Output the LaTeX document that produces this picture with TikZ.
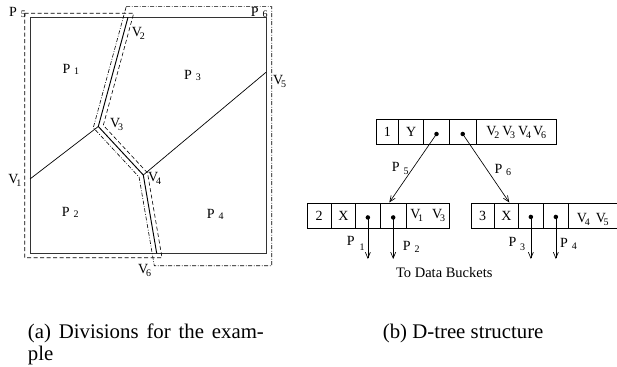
\documentclass[tikz,border=0pt]{standalone}
\usepackage{fontspec}
\setmainfont{Liberation Serif}
\usetikzlibrary{arrows.meta}
\newcommand\Psb[2][-1pt]{P\hspace{0.28em}\raisebox{#1}{\fontsize{10}{10}\selectfont #2}}
\newcommand\Vsb[1]{V\kern-2.2pt\raisebox{-3pt}{\fontsize{10}{10}\selectfont #1}}
\begin{document}
\begin{tikzpicture}[x=1pt,y=-1pt,
  lbl/.style={inner sep=0pt, anchor=base west, font=\fontsize{14}{14}\selectfont},
  sq/.style={line width=1pt, draw=black!80},
  divl/.style={line width=0.95pt},
  thinl/.style={line width=0.7pt},
  dashreg/.style={line width=0.6pt, dash pattern=on 4pt off 2.5pt},
  dotreg/.style={line width=0.6pt, dash pattern=on 4pt off 1.6pt on 0.8pt off 1.6pt},
  cell/.style={draw, line width=0.7pt, inner sep=0pt, anchor=north west, font=\fontsize{14}{14}\selectfont},
  ptr/.style={line width=0.65pt, -{Straight Barb[length=6pt,width=5pt]}},
  dotc/.style={circle, fill, inner sep=0pt, minimum size=4.5pt},
  captxt/.style={inner sep=0pt, anchor=base west, font=\fontsize{20.8}{24}\selectfont}
]
\useasboundingbox (0,0) rectangle (617,366);
% ---------- (a) divisions ----------
\coordinate (A) at (128,17.3);
\coordinate (B) at (98.3,126.5);
\coordinate (C) at (143.3,175);
\coordinate (D) at (156.7,253.3);
\coordinate (E1) at (30,179);
\coordinate (E5) at (266,72.3);
\draw[sq] (30,17.3) rectangle (266,253.3);
\draw[divl] (A) -- (B) -- (C) -- (D);
\draw[thinl] (E1) -- (B);
\draw[thinl] (C) -- (E5);
% P5 region (dashed)
\draw[dashreg] (24.7,13.3) -- (133.7,13.3) -- (103.3,125.3) -- (147.5,172.9) -- (162,257.7) -- (24.7,257.7) -- cycle;
% P6 region (dash-dot)
\draw[dotreg] (126.2,6.7) -- (271.7,6.7) -- (271.7,265.7) -- (154.3,265.7) -- (139.1,177.1) -- (93.3,127.7) -- cycle;
% labels
\node[lbl] (lp5) at (9,16.7) {\Psb{5}};
\node[lbl] (lp6) at (250.7,16.7) {\Psb{6}};
\node[lbl] (lp1) at (62.3,74) {\Psb{1}};
\node[lbl] (lp3) at (184,80) {\Psb{3}};
\node[lbl] (lp2) at (61.7,216.7) {\Psb{2}};
\node[lbl] (lp4) at (206.7,218) {\Psb{4}};
\node[lbl] (lv2) at (131.7,36.7) {\Vsb{2}};
\node[lbl] (lv5) at (273,85) {\Vsb{5}};
\node[lbl] (lv3) at (110,128) {\Vsb{3}};
\node[lbl] (lv1) at (8.3,183) {\Vsb{1}};
\node[lbl] (lv4) at (148,181.7) {\Vsb{4}};
\node[lbl] (lv6) at (138,273) {\Vsb{6}};
% ---------- (b) D-tree ----------
\node[cell, minimum width=22.6pt, minimum height=25.3pt] (c11) at (375.7,119) {\raisebox{-2pt}{1}};
\node[cell, minimum width=25pt, minimum height=25.3pt] (c12) at (398.3,119) {\raisebox{-2pt}{Y}};
\node[cell, minimum width=25.7pt, minimum height=25.3pt] (c13) at (423.3,119) {};
\node[cell, minimum width=26.7pt, minimum height=25.3pt] (c14) at (449,119) {};
\node[cell, minimum width=80.3pt, minimum height=25.3pt] (c15) at (475.7,119) {\raisebox{-1pt}{\Vsb{2}\hspace{3pt}\Vsb{3}\hspace{3pt}\Vsb{4}\hspace{2pt}\Vsb{6}}};
\node[cell, minimum width=24.3pt, minimum height=25.8pt] (c21) at (306.7,202.5) {\raisebox{-2pt}{2}};
\node[cell, minimum width=24pt, minimum height=25.8pt] (c22) at (331,202.5) {\raisebox{-2pt}{X}};
\node[cell, minimum width=25pt, minimum height=25.8pt] (c23) at (355,202.5) {};
\node[cell, minimum width=25.7pt, minimum height=25.8pt] (c24) at (380,202.5) {};
\node[cell, minimum width=43.3pt, minimum height=25.8pt] (c25) at (405.7,202.5) {\raisebox{-1pt}{\Vsb{1}\hspace{9pt}\Vsb{3}}};
\node[cell, minimum width=23.3pt, minimum height=25.8pt] (c31) at (470.7,202.5) {\raisebox{-2pt}{3}};
\node[cell, minimum width=24.3pt, minimum height=25.8pt] (c32) at (494,202.5) {\raisebox{-2pt}{X}};
\node[cell, minimum width=24.4pt, minimum height=25.8pt] (c33) at (518.3,202.5) {};
\node[cell, minimum width=25.6pt, minimum height=25.8pt] (c34) at (542.7,202.5) {};
\node[cell, minimum width=60pt, minimum height=25.8pt] (c35) at (568.3,202.5) {};
\node[lbl] (v45) at (576.7,222) {\Vsb{4}\hspace{6pt}\Vsb{5}};
% dots
\node[dotc] (d13) at ([yshift=-2pt]c13.center) {};
\node[dotc] (d14) at ([yshift=-2pt]c14.center) {};
\node[dotc] (d23) at ([yshift=-1.7pt]c23.center) {};
\node[dotc] (d24) at ([yshift=-1.7pt]c24.center) {};
\node[dotc] (d33) at ([yshift=-1.2pt]c33.center) {};
\node[dotc] (d34) at ([yshift=-1.2pt]c34.center) {};
% pointer targets
\coordinate (t5) at (389.3,202.5);
\coordinate (t6) at (509.3,202.5);
\coordinate (b1) at (366.7,259);
\coordinate (b2) at (392.7,259);
\coordinate (b3) at (529,259);
\coordinate (b4) at (555,259);
\draw[ptr] (d13.center) -- (t5);
\draw[ptr] (d14.center) -- (t6);
\draw[ptr] (d23.center) -- (d23.center |- b1);
\draw[ptr] (d24.center) -- (d24.center |- b2);
\draw[ptr] (d33.center) -- (d33.center |- b3);
\draw[ptr] (d34.center) -- (d34.center |- b4);
% tree labels
\node[lbl] (tp5) at (391.7,171.7) {\Psb[-3pt]{5}};
\node[lbl] (tp6) at (494.3,173.3) {\Psb[-2pt]{6}};
\node[lbl] (tp1) at (346.7,245) {P\hspace{5pt}\raisebox{-5pt}{\fontsize{10}{10}\selectfont 1}};
\node[lbl] (tp2) at (402.7,250) {\Psb[-2pt]{2}};
\node[lbl] (tp3) at (508.3,246.7) {\Psb[-4pt]{3}};
\node[lbl] (tp4) at (560,247) {\Psb[-2pt]{4}};
\node[inner sep=0pt, font=\fontsize{14.5}{14.5}\selectfont] (tdb) at (444.3,273) {To Data Buckets};
% captions
\node[captxt] (capa) at (27.7,338) {\makebox[236pt][s]{(a) Divisions for the exam-}};
\node[captxt] (capa2) at (27.7,360) {ple};
\node[captxt] (capb) at (382.7,338) {(b) D-tree structure};
\end{tikzpicture}
\end{document}
